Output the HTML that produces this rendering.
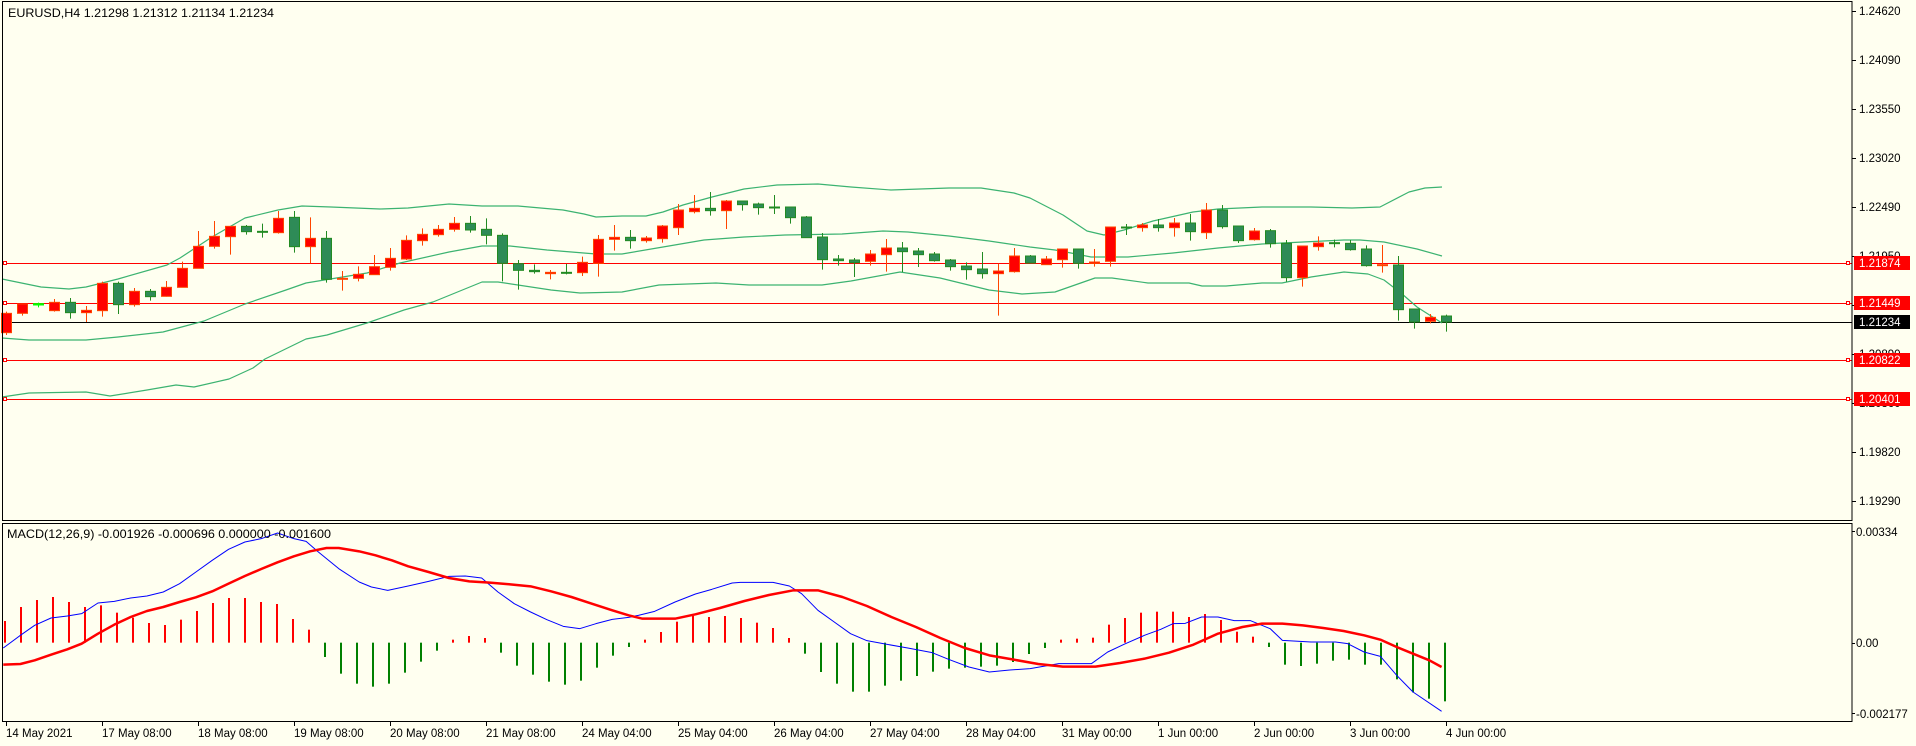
<!DOCTYPE html>
<html><head><meta charset="utf-8"><style>
html,body{margin:0;padding:0;background:#fffff0;}
svg{display:block;font-family:"Liberation Sans",sans-serif;}
</style></head><body>
<svg id="s" width="1916" height="746" xmlns="http://www.w3.org/2000/svg">
<rect x="0" y="0" width="1916" height="746" fill="#fffff0"/>
<g id="plot"></g>
<rect x="2.5" y="1.5" width="1849.5" height="519" fill="none" stroke="#000" stroke-width="1"/>
<rect x="2.5" y="523.5" width="1849.5" height="198" fill="none" stroke="#000" stroke-width="1"/>
<g font-size="12" fill="#000">
<text x="8" y="17" textLength="266" lengthAdjust="spacingAndGlyphs">EURUSD,H4  1.21298 1.21312 1.21134 1.21234</text>
<text x="7" y="538" textLength="324" lengthAdjust="spacingAndGlyphs">MACD(12,26,9) -0.001926 -0.000696 0.000000 -0.001600</text>
</g>
<g font-size="11.5" fill="#000">
<text x="1859" y="15">1.24620</text>
<text x="1859" y="64">1.24090</text>
<text x="1859" y="113">1.23550</text>
<text x="1859" y="162">1.23020</text>
<text x="1859" y="211">1.22490</text>
<text x="1859" y="260">1.21950</text>
<text x="1859" y="309">1.21420</text>
<text x="1859" y="358">1.20890</text>
<text x="1859" y="407">1.20360</text>
<text x="1859" y="456">1.19820</text>
<text x="1859" y="505">1.19290</text>
<text x="1856" y="536">0.00334</text>
<text x="1856" y="647">0.00</text>
<text x="1856" y="718">-0.002177</text>
</g>
<g id="ticks" stroke="#000" stroke-width="1"></g>
<g font-size="11.5">
<rect x="1854" y="256" width="56" height="14" fill="#ff0000"/><text x="1859" y="267" fill="#fff">1.21874</text>
<rect x="1854" y="296" width="56" height="14" fill="#ff0000"/><text x="1859" y="307" fill="#fff">1.21449</text>
<rect x="1854" y="315" width="56" height="14" fill="#000"/><text x="1859" y="326" fill="#fff">1.21234</text>
<rect x="1854" y="353" width="56" height="14" fill="#ff0000"/><text x="1859" y="364" fill="#fff">1.20822</text>
<rect x="1854" y="392" width="56" height="14" fill="#ff0000"/><text x="1859" y="403" fill="#fff">1.20401</text>
</g>
<g font-size="11.5" fill="#000">
<text x="6" y="737">14 May 2021</text>
<text x="102" y="737">17 May 08:00</text>
<text x="198" y="737">18 May 08:00</text>
<text x="294" y="737">19 May 08:00</text>
<text x="390" y="737">20 May 08:00</text>
<text x="486" y="737">21 May 08:00</text>
<text x="582" y="737">24 May 04:00</text>
<text x="678" y="737">25 May 04:00</text>
<text x="774" y="737">26 May 04:00</text>
<text x="870" y="737">27 May 04:00</text>
<text x="966" y="737">28 May 04:00</text>
<text x="1062" y="737">31 May 00:00</text>
<text x="1158" y="737">1 Jun 00:00</text>
<text x="1254" y="737">2 Jun 00:00</text>
<text x="1350" y="737">3 Jun 00:00</text>
<text x="1446" y="737">4 Jun 00:00</text>
</g>
</svg>
<script>
(function(){
var NS="http://www.w3.org/2000/svg",P=document.getElementById("plot"),T=document.getElementById("ticks");
function el(n,a,p){var e=document.createElementNS(NS,n);for(var k in a)e.setAttribute(k,a[k]);(p||P).appendChild(e);return e;}
function poly(pts,c,w){el("polyline",{points:pts.map(function(p){return p[0]+","+p[1]}).join(" "),fill:"none",stroke:c,"stroke-width":w,"stroke-linejoin":"round"});}
// ticks
[11,60,109,158,207,256,305,354,403,452,501].forEach(function(y){el("line",{x1:1852,x2:1856,y1:y+0.5,y2:y+0.5},T);});
[531,643,713].forEach(function(y){el("line",{x1:1852,x2:1855,y1:y+0.5,y2:y+0.5},T);});
for(var k=0;k<16;k++){var x=6+96*k;el("line",{x1:x+0.5,x2:x+0.5,y1:722,y2:726},T);}
// h-lines
[[263,"#ff0000"],[303,"#ff0000"],[360,"#ff0000"],[399,"#ff0000"]].forEach(function(l){
 el("line",{x1:3,x2:1852,y1:l[0]+0.5,y2:l[0]+0.5,stroke:l[1],"stroke-width":1});
 el("rect",{x:3.5,y:l[0]-1.5,width:3,height:3,fill:"#fff",stroke:l[1]});
 el("rect",{x:1846.5,y:l[0]-1.5,width:3,height:3,fill:"#fff",stroke:l[1]});
});
el("line",{x1:3,x2:1852,y1:322.5,y2:322.5,stroke:"#000","stroke-width":1});
// bands
var U=[[2,279],[41,287],[69,289],[86,287],[118,279],[167,265],[180,258],[212,237],[245,218],[278,210],[302,206],[331,207],[380,209],[408,208],[449,204],[482,206],[518,206],[563,210],[584,214],[596,217],[622,216],[646,216],[663,212],[683,205],[712,197],[744,189],[777,185],[818,184],[851,187],[891,190],[949,188],[981,188],[1014,193],[1030,198],[1063,215],[1087,231],[1104,235],[1124,230],[1153,221],[1193,212],[1218,209],[1262,207],[1311,207],[1352,208],[1380,207],[1409,192],[1425,188],[1442,187]];
var M=[[2,338],[29,340],[86,340],[118,337],[163,332],[204,321],[245,304],[286,290],[306,283],[367,273],[400,263],[449,252],[482,246],[510,246],[547,250],[596,254],[622,254],[663,247],[704,240],[744,237],[785,235],[842,234],[883,231],[908,232],[949,236],[989,241],[1030,247],[1055,250],[1071,253],[1091,257],[1128,257],[1173,253],[1218,248],[1262,244],[1303,242],[1344,240],[1360,240],[1384,242],[1417,249],[1442,256]];
var L=[[2,397],[29,393],[86,392],[110,396],[147,390],[176,385],[194,387],[229,379],[253,368],[265,359],[306,339],[327,335],[367,323],[404,310],[433,302],[482,282],[498,282],[551,290],[580,293],[622,292],[659,285],[716,283],[749,285],[822,285],[851,281],[900,272],[940,278],[989,290],[1022,294],[1055,292],[1095,278],[1112,278],[1148,283],[1189,283],[1202,286],[1226,286],[1262,283],[1282,283],[1311,277],[1344,272],[1368,274],[1384,280],[1401,293],[1417,307],[1442,323]];
poly(U,"#3cb371",1.2);poly(M,"#3cb371",1.2);poly(L,"#3cb371",1.2);
// candles
var C=[['r',490,548,485,555],['r',462,490,462,497],['d',461,465,458,472],['r',457,482,447,485],['g',457,488,444,506],['r',481,488,468,516],['r',400,482,395,500],['g',400,464,395,492],['r',424,464,414,470],['g',424,440,417,452],['r',412,439,393,440],['r',355,412,335,412],['r',289,355,243,355],['r',259,289,213,296],['r',229,260,229,314],['g',229,245,225,254],['g',244,247,221,263],['r',205,248,183,251],['g',202,290,183,308],['r',265,290,202,340],['g',265,388,243,398],['r',385,388,363,422],['r',373,385,349,394],['r',350,374,315,374],['r',325,352,294,362],['r',271,327,256,330],['r',253,272,235,287],['r',238,254,225,260],['r',220,238,201,245],['g',220,240,198,248],['g',238,256,205,283],['g',256,340,250,394],['g',341,361,330,419],['g',361,365,343,371],['r',367,371,360,388],['g',367,370,342,373],['r',337,368,320,378],['r',268,340,255,380],['r',262,268,225,302],['g',262,272,240,296],
['r',264,272,258,278],['r',228,266,225,278],['r',180,233,162,255],['r',175,185,135,190],['g',175,182,126,197],['r',153,182,150,237],['g',153,164,153,182],['g',162,173,158,194],['g',171,174,135,192],['g',171,203,171,221],['g',201,263,198,263],['g',261,329,249,359],['g',327,332,315,347],['g',330,338,324,381],['r',312,334,300,347],['r',294,314,267,365],['g',294,305,276,366],['g',303,314,294,351],['g',312,332,306,335],['g',330,350,327,362],['g',348,359,337,389],['g',357,371,306,386],['r',363,371,341,497],['r',318,365,294,368],['g',318,339,315,340],['r',327,344,318,344],['r',297,329,297,353],['g',297,340,297,356],['r',336,340,297,350],['r',231,334,231,350],['g',231,233,222,255],['r',225,233,219,245],['g',225,233,207,245],['r',219,233,204,260],['g',219,245,192,272],['r',180,248,159,267],['g',180,230,165,236],['g',228,272,228,279],['r',243,269,234,272],
['g',242,281,237,293],['g',280,383,270,395],['r',288,383,288,410],['r',279,290,259,302],['g',278,281,269,292],['g',280,299,270,302],['g',297,347,286,350],['r',344,347,285,368],['g',345,479,318,512],['g',477,516,477,536],['r',502,514,492,520],['g',498,516,494,545]];
function Y(d){return 150+d/3;}
C.forEach(function(c,i){
 var x=6+16*i,bt=Y(c[1]),bb=Y(c[2]),wt=Y(c[3]),wb=Y(c[4]);
 var fill=c[0]=='r'?"#ff0000":(c[0]=='g'?"#2e8b57":"#00ff00"),st=c[0]=='r'?"#ff4500":(c[0]=='g'?"#228b22":"#00ff00");
 el("line",{x1:x+0.5,x2:x+0.5,y1:wt,y2:wb,stroke:st,"stroke-width":1});
 var h=Math.max(bb-bt,1);
 el("rect",{x:x-4.5,y:bt,width:10,height:h,fill:fill,stroke:st,"stroke-width":1});
});
// histogram
var H=[297,255,234,225,240,255,250,272,287,303,309,293,267,243,228,228,240,246,291,323,405,455,485,494,485,452,419,386,353,342,348,392,431,458,479,488,476,437,401,375,353,330,299,282,285,282,288,302,318,348,395,450,485,509,509,491,476,462,449,440,437,434,431,420,396,378,353,350,347,308,288,272,269,269,285,276,294,329,344,375,428,432,425,416,413,428,428,472,511,530,538];
var z=522+362/3;
H.forEach(function(d,i){var x=4+16*i,y=522+d/3;
 el("rect",{x:x,y:Math.min(y,z),width:2,height:Math.abs(y-z)||1,fill:d<362?"#ff0000":"#008000"});});
function conv(a,x0){return a.map(function(p){return [x0+p[0]/2.45,522+p[1]/3];});}
var B=conv([[8,378],[50,340],[85,310],[125,288],[165,282],[200,275],[240,243],[280,238],[320,228],[360,222],[400,210],[440,185],[480,150],[520,115],[560,82],[600,60],[640,50],[680,33],[720,50],[750,58],[780,90],[830,140],[880,180],[910,195],[950,205],[1000,192],[1050,178],[1100,163],[1140,162],[1180,168],[1220,210],[1260,245],[1300,270],[1340,293],[1380,313],[1420,320],[1460,305],[1500,292],[1540,286]],0)
 .concat(conv([[40,280],[80,268],[130,240],[180,216],[220,202],[270,183],[290,181],[370,181],[410,192],[440,215],[480,265],[520,300],[560,335],[600,356],[640,365],[700,378],[760,392],[800,412],[850,435],[900,450],[950,444],[1000,440],[1070,425],[1150,425],[1190,390],[1230,367],[1280,340],[1320,322],[1350,305],[1380,304],[1420,285],[1460,285],[1500,296],[1540,296]],622))
 .concat(conv([[20,320],[50,355],[120,360],[180,360],[210,365],[250,390],[290,403],[330,460],[370,510],[440,568]],1262));
var R=conv([[8,428],[50,426],[85,415],[125,398],[165,382],[200,365],[240,335],[280,308],[320,285],[360,267],[400,255],[440,240],[480,226],[520,208],[560,185],[600,162],[640,141],[680,121],[720,103],[760,88],[800,78],[830,78],[880,88],[920,100],[960,115],[1000,133],[1050,150],[1100,168],[1150,178],[1200,182],[1250,187],[1300,193],[1350,208],[1400,225],[1450,245],[1500,265],[1540,280]],0)
 .concat(conv([[50,290],[130,290],[180,277],[240,258],[300,237],[360,219],[420,205],[480,205],[540,225],[600,252],[660,285],[720,315],[780,348],[840,378],[900,400],[960,413],[1020,426],[1080,434],[1160,434],[1220,423],[1280,410],[1340,392],[1400,368],[1460,335],[1520,315],[1568,305]],622))
 .concat(conv([[50,305],[100,310],[150,318],[200,327],[250,340],[290,353],[330,375],[370,395],[410,415],[440,435]],1262));
poly(B,"#0000ff",1);poly(R,"#ff0000",2.5);
})();
</script>
</body></html>
